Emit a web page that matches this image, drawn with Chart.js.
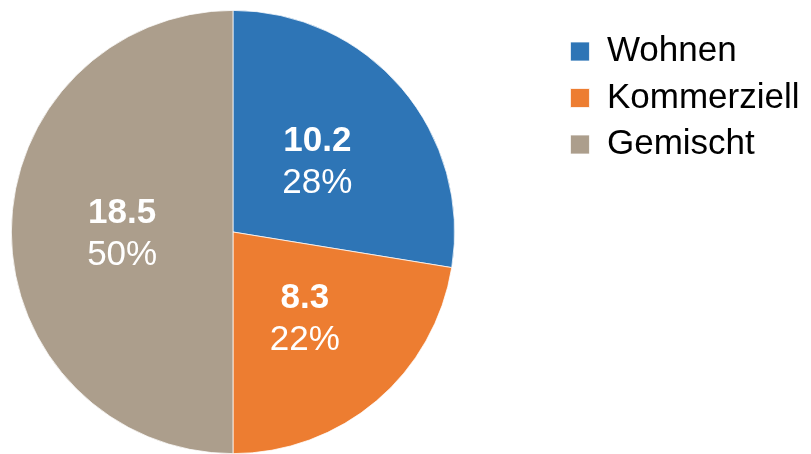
<!DOCTYPE html>
<html>
<head>
<meta charset="utf-8">
<script src="https://cdn.jsdelivr.net/npm/chart.js@4.4.1/dist/chart.umd.min.js"></script>
<style>
    html, body { margin: 0; padding: 0; background: #fff; overflow: hidden; }
    #pieChart { display: block; margin-left: -93px; }
</style>
</head>
<body>
<canvas id="pieChart" width="904" height="454"></canvas>
<script>
        // Chart data
        const categories = ['Wohnen', 'Kommerziell', 'Gemischt'];
        const values = [10.2, 8.3, 18.5];
        const colors = ['#2E75B6', '#ED7D31', '#AC9E8C'];

        const fontFamily = '"Liberation Sans", Arial, sans-serif';

        // Value + percentage inside every slice
        const sliceLabels = {
            id: 'sliceLabels',
            afterDatasetsDraw(chart) {
                const ctx = chart.ctx;
                const meta = chart.getDatasetMeta(0);
                const total = values.reduce((a, b) => a + b, 0);
                meta.data.forEach((arc, i) => {
                    const p = arc.getProps(['x', 'y', 'startAngle', 'endAngle', 'outerRadius'], true);
                    const mid = (p.startAngle + p.endAngle) / 2;
                    const r = p.outerRadius * 0.5;
                    const cx = p.x + Math.cos(mid) * r;
                    const cy = p.y + Math.sin(mid) * r + 2.5;
                    ctx.save();
                    ctx.fillStyle = '#fff';
                    ctx.textAlign = 'center';
                    ctx.textBaseline = 'middle';
                    ctx.font = 'bold 35px ' + fontFamily;
                    ctx.fillText(values[i].toFixed(1), cx, cy - 21);
                    ctx.font = '35px ' + fontFamily;
                    ctx.fillText(Math.round(values[i] / total * 100) + '%', cx, cy + 21);
                    ctx.restore();
                });
            }
        };

        const pieChart = new Chart(document.getElementById('pieChart').getContext('2d'), {
            type: 'pie',
            data: {
                labels: categories,
                datasets: [{
                    data: values,
                    backgroundColor: colors,
                    borderColor: '#fff',
                    borderWidth: 0.75
                }]
            },
            options: {
                responsive: false,
                animation: false,
                devicePixelRatio: 1,
                layout: {
                    padding: { left: 0, right: 1.5, top: 10, bottom: 0 }
                },
                plugins: {
                    tooltip: { enabled: false },
                    legend: {
                        position: 'right',
                        align: 'start',
                        title: {
                            display: true,
                            text: '',
                            font: { size: 12.5, lineHeight: 1 },
                            padding: 0
                        },
                        labels: {
                            boxWidth: 19,
                            boxHeight: 19,
                            padding: 11.5,
                            color: '#000',
                            font: { family: fontFamily, size: 35 }
                        }
                    }
                }
            },
            plugins: [sliceLabels]
        });
</script>
</body>
</html>
